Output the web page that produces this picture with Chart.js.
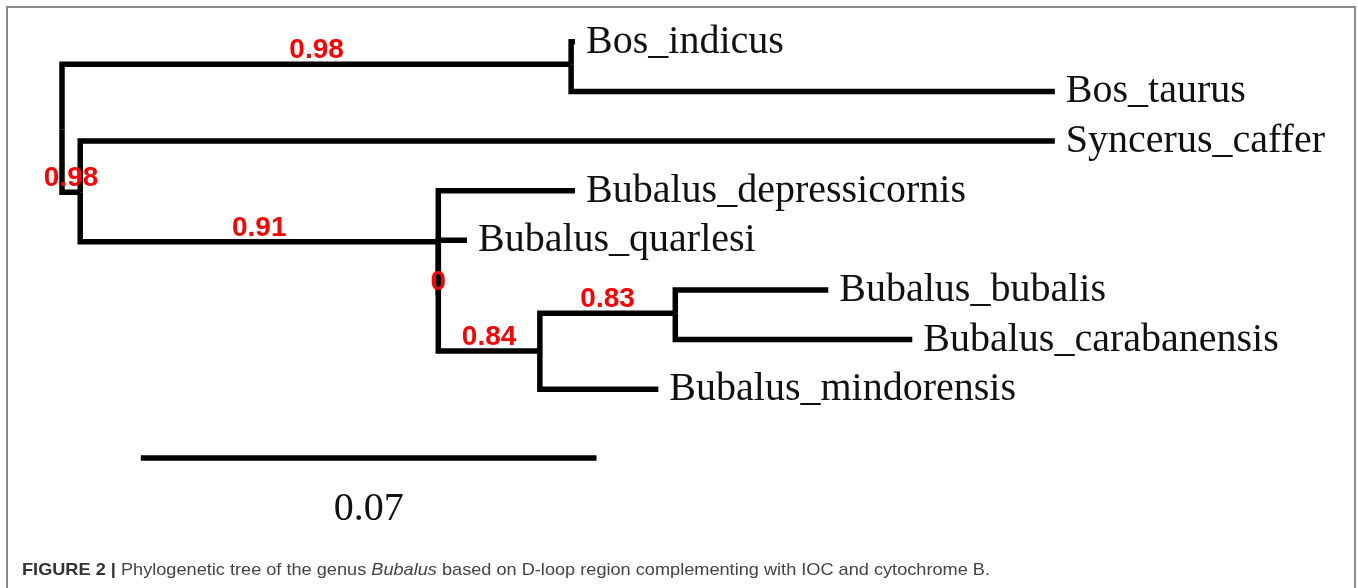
<!DOCTYPE html>
<html>
<head>
<meta charset="utf-8">
<script src="https://cdn.jsdelivr.net/npm/chart.js@4"></script>
<style>
  html, body { margin: 0; padding: 0; background: #fff; }
  #tree { display: block; }
</style>
</head>
<body>
<canvas id="tree" width="1358" height="588"></canvas>
<script>
"use strict";

// tree nodes: name, cumulative branch length, row, parent index, support
const nodeNames = ["root", "nBos", "Bos_indicus", "Bos_taurus", "nInner", "Syncerus_caffer",
  "nA", "Bubalus_depressicornis", "nZ", "Bubalus_quarlesi", "n84", "n83",
  "Bubalus_bubalis", "Bubalus_carabanensis", "Bubalus_mindorensis"];
const nodeDist = [0, 0.0782, 0.0788, 0.1525, 0.0028, 0.1525,
  0.0578, 0.0788, 0.0578, 0.0622, 0.0734, 0.0942,
  0.1177, 0.1306, 0.0916];
const nodeRow = [1.77, 0.45, 0, 1, 3.03, 2,
  4.03, 3, 5.12, 4, 6.23, 5.47,
  5, 6, 7];
const nodeParent = [-1, 0, 1, 1, 0, 4,
  4, 6, 6, 8, 8, 10,
  11, 11, 10];
const nodeSupport = [null, "0.98", null, null, "0.98", null,
  "0.91", null, "0", null, "0.84", "0.83",
  null, null, null];

// scale bar
const scaleBarValue = 0.07;
const scaleBarStart = 0.0121;
const scaleBarRow = 8.39;

const isTip = (i) => !nodeParent.includes(i);

// one elbow line per branch
const datasets = [];
nodeNames.forEach((name, i) => {
  const p = nodeParent[i];
  if (p < 0) return;
  datasets.push({
    label: name,
    data: [
      { x: nodeDist[p], y: nodeRow[p] },
      { x: nodeDist[p], y: nodeRow[i] },
      { x: nodeDist[i], y: nodeRow[i] }
    ]
  });
});
datasets.push({
  label: "scale",
  data: [
    { x: scaleBarStart, y: scaleBarRow },
    { x: scaleBarStart + scaleBarValue, y: scaleBarRow }
  ]
});

// labels, frame and caption
const treeText = {
  id: "treeText",
  afterDatasetsDraw(chart) {
    const ctx = chart.ctx;
    const xs = chart.scales.x;
    const ys = chart.scales.y;
    ctx.save();

    // tip names
    ctx.fillStyle = "#111";
    ctx.font = '40px "Liberation Serif", "Times New Roman", serif';
    ctx.textAlign = "left";
    ctx.textBaseline = "alphabetic";
    nodeNames.forEach((name, i) => {
      if (!isTip(i)) return;
      ctx.fillText(name, xs.getPixelForValue(nodeDist[i]) + 11, ys.getPixelForValue(nodeRow[i]) + 11);
    });

    // support values over the branch
    ctx.fillStyle = "#ff0000";
    ctx.font = 'bold 28px "Liberation Sans", Arial, sans-serif';
    ctx.textAlign = "center";
    nodeSupport.forEach((s, i) => {
      if (s === null) return;
      const p = nodeParent[i];
      const mid = (xs.getPixelForValue(nodeDist[p]) + xs.getPixelForValue(nodeDist[i])) / 2;
      ctx.fillText(s, mid, ys.getPixelForValue(nodeRow[i]) - 6);
    });

    // scale bar label
    ctx.fillStyle = "#111";
    ctx.font = '40px "Liberation Serif", "Times New Roman", serif';
    const barMid = xs.getPixelForValue(scaleBarStart + scaleBarValue / 2);
    ctx.fillText(String(scaleBarValue), barMid, ys.getPixelForValue(scaleBarRow) + 62);

    // frame
    ctx.strokeStyle = "#8a8a8a";
    ctx.lineWidth = 2;
    ctx.strokeRect(7, 7, 1348, 620);

    // caption
    const parts = [
      { t: "FIGURE 2 | ", f: 'bold 17px "Liberation Sans", Arial, sans-serif', c: "#333" },
      { t: "Phylogenetic tree of the genus ", f: '17px "Liberation Sans", Arial, sans-serif', c: "#444" },
      { t: "Bubalus", f: 'italic 17px "Liberation Sans", Arial, sans-serif', c: "#444" },
      { t: " based on D-loop region complementing with IOC and cytochrome B.", f: '17px "Liberation Sans", Arial, sans-serif', c: "#444" }
    ];
    let total = 0;
    parts.forEach((pt) => { ctx.font = pt.f; total += ctx.measureText(pt.t).width; });
    const k = 968 / total;
    ctx.translate(22, 575);
    ctx.scale(k, 1);
    ctx.textAlign = "left";
    let cx = 0;
    parts.forEach((pt) => {
      ctx.font = pt.f;
      ctx.fillStyle = pt.c;
      ctx.fillText(pt.t, cx, 0);
      cx += ctx.measureText(pt.t).width;
    });
    ctx.restore();
  }
};

new Chart(document.getElementById("tree"), {
  type: "scatter",
  data: { datasets },
  options: {
    responsive: false,
    animation: false,
    events: [],
    layout: { padding: { left: 62, right: 59, top: 17, bottom: 50 } },
    elements: {
      line: { borderColor: "#000", borderWidth: 5.5, tension: 0, borderJoinStyle: "miter", borderCapStyle: "butt" },
      point: { radius: 0 }
    },
    datasets: { scatter: { showLine: true, borderColor: "#000", clip: false } },
    scales: {
      x: { type: "linear", min: 0, max: 0.19, display: false },
      y: { type: "linear", min: -0.5, max: 10, reverse: true, display: false }
    },
    plugins: {
      legend: { display: false },
      tooltip: { enabled: false }
    }
  },
  plugins: [treeText]
});
</script>
</body>
</html>
